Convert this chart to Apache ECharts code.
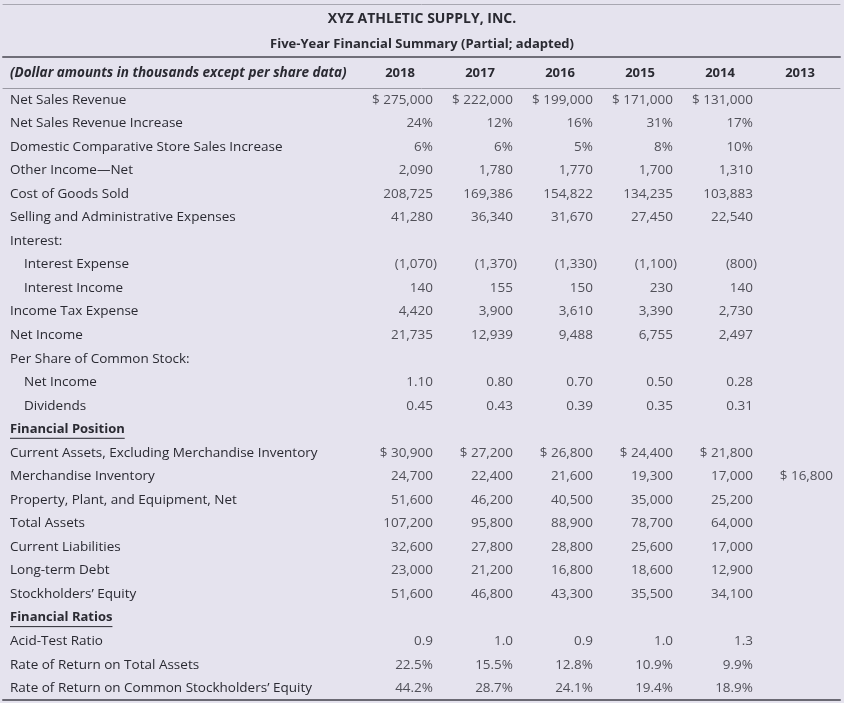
<!DOCTYPE html>
<html>
<head>
<meta charset="utf-8">
<script src="https://cdn.jsdelivr.net/npm/echarts@6/dist/echarts.min.js"></script>
<style>
html,body{margin:0;padding:0;background:#e5e3ee;}
#chart{width:844px;height:703px;}
</style>
</head>
<body>
<div id="chart"></div>
<script>
// ---------- data ----------
const titleText = 'XYZ ATHLETIC SUPPLY, INC.';
const subtitleText = 'Five-Year Financial Summary (Partial; adapted)';
const headerText = '(Dollar amounts in thousands except per share data)';
const years = ['2018', '2017', '2016', '2015', '2014', '2013'];

const rowLabels = [
  'Net Sales Revenue',
  'Net Sales Revenue Increase',
  'Domestic Comparative Store Sales Increase',
  'Other Income\u2014Net',
  'Cost of Goods Sold',
  'Selling and Administrative Expenses',
  'Interest:',
  'Interest Expense',
  'Interest Income',
  'Income Tax Expense',
  'Net Income',
  'Per Share of Common Stock:',
  'Net Income',
  'Dividends',
  'Financial Position',
  'Current Assets, Excluding Merchandise Inventory',
  'Merchandise Inventory',
  'Property, Plant, and Equipment, Net',
  'Total Assets',
  'Current Liabilities',
  'Long-term Debt',
  "Stockholders\u2019 Equity",
  'Financial Ratios',
  'Acid-Test Ratio',
  'Rate of Return on Total Assets',
  "Rate of Return on Common Stockholders\u2019 Equity"
];
const indentedRows = [7, 8, 12, 13];
const headingRows = [14, 22];
const sectionStarts = [0, 14];
// number format per row: m = money, p = percent, p1 = percent 1 dec, d2 / d1 = decimals
const rowFormats = ['m','p','p','m','m','m','','m','m','m','m','','d2','d2','','m','m','m','m','m','m','m','','d1','p1','p1'];

const v2018 = [275000, 24, 6, 2090, 208725, 41280, null, -1070, 140, 4420, 21735, null, 1.10, 0.45, null, 30900, 24700, 51600, 107200, 32600, 23000, 51600, null, 0.9, 22.5, 44.2];
const v2017 = [222000, 12, 6, 1780, 169386, 36340, null, -1370, 155, 3900, 12939, null, 0.80, 0.43, null, 27200, 22400, 46200, 95800, 27800, 21200, 46800, null, 1.0, 15.5, 28.7];
const v2016 = [199000, 16, 5, 1770, 154822, 31670, null, -1330, 150, 3610, 9488, null, 0.70, 0.39, null, 26800, 21600, 40500, 88900, 28800, 16800, 43300, null, 0.9, 12.8, 24.1];
const v2015 = [171000, 31, 8, 1700, 134235, 27450, null, -1100, 230, 3390, 6755, null, 0.50, 0.35, null, 24400, 19300, 35000, 78700, 25600, 18600, 35500, null, 1.0, 10.9, 19.4];
const v2014 = [131000, 17, 10, 1310, 103883, 22540, null, -800, 140, 2730, 2497, null, 0.28, 0.31, null, 21800, 17000, 25200, 64000, 17000, 12900, 34100, null, 1.3, 9.9, 18.9];
const v2013 = [null, null, null, null, null, null, null, null, null, null, null, null, null, null, null, null, 16800, null, null, null, null, null, null, null, null, null];
const columns = [v2018, v2017, v2016, v2015, v2014, v2013];

// ---------- styling ----------
const FONT = '"Open Sans", "Noto Sans", sans-serif';
const TXT = '#2a2a32';
const FS = 13.5;
const labelMargin = 350;
const valOffset = 33;

function thousands(n) {
  return Math.abs(n).toString().replace(/\B(?=(\d{3})+(?!\d))/g, ',');
}
function formatCell(col, row) {
  const v = columns[col][row];
  const f = rowFormats[row];
  if (v == null) return null;
  if (f === 'p') return v + '%';
  if (f === 'p1') return v.toFixed(1) + '%';
  if (f === 'd2') return v.toFixed(2);
  if (f === 'd1') return v.toFixed(1);
  // money: dollar sign on first value of the column in its section
  let sec = 0;
  sectionStarts.forEach(s => { if (row >= s) sec = s; });
  let first = true;
  for (let r = sec; r < row; r++) if (columns[col][r] != null && rowFormats[r] === 'm') first = false;
  let s = thousands(v);
  if (v < 0) s = '(' + s + ')';
  return (first ? '$ ' : '') + s;
}

const cellData = [];
columns.forEach((c, ci) => {
  c.forEach((v, ri) => {
    const t = formatCell(ci, ri);
    if (t == null) return;
    cellData.push({
      value: [ci, ri, t],
      label: { offset: [v < 0 ? valOffset + 4 : valOffset, 0] }
    });
  });
});

const measureCtx = document.createElement('canvas').getContext('2d');

const chart = echarts.init(document.getElementById('chart'));
chart.setOption({
  backgroundColor: '#e5e3ee',
  animation: false,
  textStyle: { fontFamily: FONT },
  title: [
    { text: titleText, left: 'center', top: 12, padding: 0,
      textStyle: { fontFamily: FONT, fontSize: 14, fontWeight: 'bold', color: TXT } },
    { text: subtitleText, left: 'center', top: 38, padding: 0,
      textStyle: { fontFamily: FONT, fontSize: 13, fontWeight: 'bold', color: TXT } },
    { text: headerText, left: 10, top: 66, padding: 0,
      textStyle: { fontFamily: FONT, fontSize: 13.5, fontWeight: 'bold', fontStyle: 'italic', color: TXT } }
  ],
  grid: [
    { left: 360, right: 4, top: 88, bottom: 3 },      // values table
    { left: 3, right: 4, top: 4, height: 53 },        // rules around title
    { left: 3, right: 4, top: 88, bottom: 3 }         // rules around body
  ],
  xAxis: [
    { gridIndex: 0, type: 'category', data: years, position: 'top',
      axisLine: { show: false }, axisTick: { show: false }, splitLine: { show: false },
      axisLabel: { margin: 8, fontFamily: FONT, fontSize: 13, fontWeight: 'bold', color: TXT } },
    { gridIndex: 1, type: 'value', position: 'top', axisLabel: { show: false }, axisTick: { show: false }, splitLine: { show: false },
      axisLine: { onZero: false, lineStyle: { color: '#a8a7b1', width: 1 } } },
    { gridIndex: 1, type: 'value', position: 'bottom', axisLabel: { show: false }, axisTick: { show: false }, splitLine: { show: false },
      axisLine: { onZero: false, lineStyle: { color: '#6f6e78', width: 2 } } },
    { gridIndex: 2, type: 'value', position: 'top', axisLabel: { show: false }, axisTick: { show: false }, splitLine: { show: false },
      axisLine: { onZero: false, lineStyle: { color: '#9a99a3', width: 1 } } },
    { gridIndex: 2, type: 'value', position: 'bottom', axisLabel: { show: false }, axisTick: { show: false }, splitLine: { show: false },
      axisLine: { onZero: false, lineStyle: { color: '#6a6973', width: 2 } } }
  ],
  yAxis: [
    { gridIndex: 0, type: 'category', inverse: true, data: rowLabels.map((_, i) => 'r' + i),
      axisLine: { show: false }, axisTick: { show: false }, splitLine: { show: false },
      axisLabel: {
        interval: 0, margin: labelMargin, align: 'left', color: TXT, fontFamily: FONT, fontSize: FS,
        formatter: (v, i) => {
          const t = rowLabels[i];
          if (headingRows.includes(i)) return '{h|' + t + '}';
          if (indentedRows.includes(i)) return '{ind|' + t + '}';
          return '{n|' + t + '}';
        },
        rich: {
          n: { fontFamily: FONT, fontSize: FS, color: TXT },
          ind: { fontFamily: FONT, fontSize: FS, color: TXT, padding: [0, 0, 0, 14] },
          h: { fontFamily: FONT, fontSize: 13, color: TXT, fontWeight: 'bold' }
        }
      } },
    { gridIndex: 1, type: 'value', show: false },
    { gridIndex: 2, type: 'value', show: false }
  ],
  series: [
    {
      type: 'scatter', xAxisIndex: 0, yAxisIndex: 0, symbolSize: 0, silent: true,
      data: cellData,
      label: {
        show: true, position: 'inside', align: 'right', verticalAlign: 'middle',
        fontFamily: FONT, fontSize: FS, color: TXT,
        formatter: p => p.value[2]
      }
    },
    {
      type: 'custom', xAxisIndex: 0, yAxisIndex: 0, silent: true,
      data: headingRows.map(r => [0, r]),
      renderItem: (params, api) => {
        const row = api.value(1);
        const y = api.coord([0, row])[1];
        const x0 = params.coordSys.x - labelMargin;
        measureCtx.font = 'bold 13px ' + FONT;
        const w = measureCtx.measureText(rowLabels[row]).width;
        return { type: 'line', shape: { x1: x0, y1: y + 9, x2: x0 + w, y2: y + 9 },
                 style: { stroke: TXT, lineWidth: 1 } };
      }
    }
  ]
});
</script>
</body>
</html>
